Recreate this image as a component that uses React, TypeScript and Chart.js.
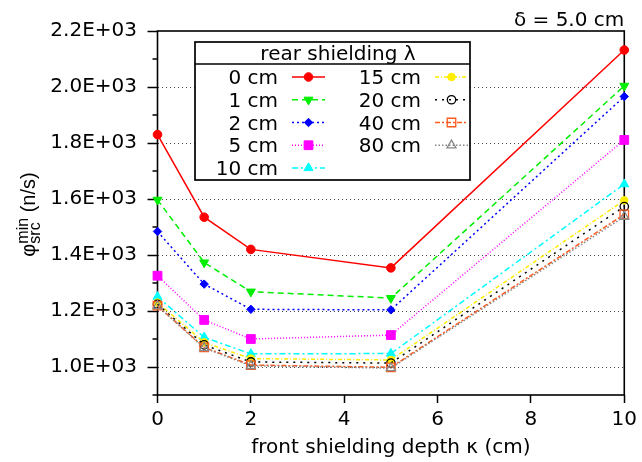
import { useEffect, useRef } from 'react';
import { Chart, registerables } from 'chart.js';
import { drawPoint } from 'chart.js/helpers';

Chart.register(...registerables);

// ---- data ----
const frontDepths = [0, 1, 2, 5, 10];
const rearLabels = ['0 cm', '1 cm', '2 cm', '5 cm', '10 cm', '15 cm', '20 cm', '40 cm', '80 cm'];
const rear0 = [1830, 1535, 1420, 1354, 2132];
const rear1 = [1597, 1373, 1269, 1246, 2004];
const rear2 = [1484, 1296, 1206, 1204, 1966];
const rear5 = [1326, 1168, 1100, 1114, 1811];
const rear10 = [1251, 1106, 1047, 1048, 1653];
const rear15 = [1230, 1088, 1030, 1025, 1595];
const rear20 = [1224, 1079, 1018, 1014, 1573];
const rear40 = [1219, 1070, 1007, 999, 1545];
const rear80 = [1218, 1068, 1004, 996, 1537];
const yTickValues = [1000, 1200, 1400, 1600, 1800, 2000, 2200];
const yTickLabels = ['1.0E+03', '1.2E+03', '1.4E+03', '1.6E+03', '1.8E+03', '2.0E+03', '2.2E+03'];
const xTickValues = [0, 2, 4, 6, 8, 10];
const xTickLabels = ['0', '2', '4', '6', '8', '10'];
const legendTitle = 'rear shielding λ';
const xTitle = 'front shielding depth κ (cm)';
const cornerLabel = 'δ = 5.0 cm';

const series = [rear0, rear1, rear2, rear5, rear10, rear15, rear20, rear40, rear80];

// ---- styles ----
const colors = ['#ff0000', '#00ee00', '#0000ff', '#ff00ff', '#00ffff', '#ffee00', '#000000', '#ff5a1e', '#888888'];
const dashes = [[], [6, 4], [2, 3], [1, 2], [6, 3, 2, 3], [4, 2, 1, 2], [2, 5], [5, 2, 2, 2], [1.5, 2]];
const pStyles = ['circle', 'triangle', 'rectRot', 'rect', 'triangle', 'circle', 'circle', 'rect', 'triangle'];
const pRot = [0, 180, 0, 0, 0, 0, 0, 0, 0];
const pRadius = [4.3, 5.2, 4.2, 6.2, 5.2, 3.8, 4.2, 6.0, 5.2];
const pFilled = [true, true, true, true, true, true, false, false, false];

const FONT = '"DejaVu Sans"';

const decorPlugin = {
  id: 'decor',
  beforeDatasetsDraw(chart: any) {
    const { ctx, chartArea } = chart;
    const y = chart.scales.y;
    ctx.save();
    ctx.strokeStyle = '#000';
    ctx.lineWidth = 1.6;
    ctx.strokeRect(chartArea.left, chartArea.top, chartArea.right - chartArea.left, chartArea.bottom - chartArea.top);
    ctx.lineWidth = 1.5;
    y.ticks.forEach((t: any) => {
      const v = Math.round(t.value);
      if (yTickValues.includes(v)) return;
      const py = y.getPixelForValue(v);
      ctx.beginPath();
      ctx.moveTo(chartArea.left - 5, py);
      ctx.lineTo(chartArea.left, py);
      ctx.stroke();
    });
    ctx.restore();
  },
  afterDraw(chart: any) {
    const { ctx, chartArea } = chart;
    ctx.save();
    // legend box
    const L = 195, T = 42, R = 470, B = 180;
    ctx.fillStyle = '#fff';
    ctx.fillRect(L, T, R - L, B - T);
    ctx.strokeStyle = '#000';
    ctx.lineWidth = 1.7;
    ctx.strokeRect(L, T, R - L, B - T);
    ctx.beginPath();
    ctx.moveTo(L, 64);
    ctx.lineTo(R, 64);
    ctx.stroke();
    ctx.font = `20px ${FONT}`;
    ctx.fillStyle = '#000';
    ctx.textBaseline = 'alphabetic';
    ctx.textAlign = 'center';
    ctx.fillText(legendTitle, 338, 60);
    chart.data.datasets.forEach((ds: any, i: number) => {
      const col = i < 5 ? 0 : 1;
      const row = i < 5 ? i : i - 5;
      const base = 84 + row * 22.75;
      const textRight = col === 0 ? 278 : 421;
      const x0 = col === 0 ? 292 : 435;
      const x1 = x0 + 33;
      ctx.fillStyle = '#000';
      ctx.textAlign = 'right';
      ctx.font = `20px ${FONT}`;
      ctx.fillText(ds.label, textRight, base);
      const ym = base - 7;
      ctx.strokeStyle = ds.borderColor;
      ctx.lineWidth = ds.borderWidth;
      ctx.setLineDash(ds.borderDash);
      ctx.beginPath();
      ctx.moveTo(x0, ym);
      ctx.lineTo(x1, ym);
      ctx.stroke();
      ctx.setLineDash([]);
      ctx.fillStyle = ds.pointBackgroundColor;
      ctx.strokeStyle = ds.pointBorderColor;
      ctx.lineWidth = ds.pointBorderWidth;
      drawPoint(ctx, { pointStyle: ds.pointStyle, rotation: ds.pointRotation, radius: ds.pointRadius, borderWidth: ds.pointBorderWidth }, (x0 + x1) / 2, ym);
    });
    // corner label
    ctx.fillStyle = '#000';
    ctx.font = `20px ${FONT}`;
    ctx.textAlign = 'right';
    ctx.fillText(cornerLabel, chartArea.right, 26);
    // x title
    ctx.textAlign = 'center';
    ctx.fillText(xTitle, (chartArea.left + chartArea.right) / 2, 453);
    // y title
    const big = '20px "Liberation Sans"';
    const small = '16px "Liberation Sans"';
    ctx.font = big;
    const wPhi = ctx.measureText('φ').width;
    const wRest = ctx.measureText(' (n/s)').width;
    ctx.font = small;
    const wSup = Math.max(ctx.measureText('min').width, ctx.measureText('src').width);
    const total = wPhi + wSup + wRest;
    ctx.translate(35, 214.5 + total / 2);
    ctx.rotate(-Math.PI / 2);
    ctx.textAlign = 'left';
    ctx.font = big;
    ctx.fillText('φ', 0, 0);
    ctx.font = small;
    ctx.fillText('min', wPhi, -7);
    ctx.fillText('src', wPhi, 5);
    ctx.font = big;
    ctx.fillText(' (n/s)', wPhi + wSup, 0);
    ctx.restore();
  },
};

export default function App() {
  const ref = useRef<HTMLCanvasElement | null>(null);
  useEffect(() => {
    if (!ref.current) return;
    const chart = new Chart(ref.current, {
      type: 'line',
      data: {
        datasets: series.map((vals, i) => ({
          label: rearLabels[i],
          data: frontDepths.map((x, j) => ({ x, y: vals[j] })),
          borderColor: colors[i],
          backgroundColor: colors[i],
          borderWidth: 1.5,
          borderDash: dashes[i],
          pointStyle: pStyles[i],
          pointRotation: pRot[i],
          pointRadius: pRadius[i],
          pointBackgroundColor: pFilled[i] ? colors[i] : 'rgba(0,0,0,0)',
          pointBorderColor: colors[i],
          pointBorderWidth: pFilled[i] ? 1 : 1.3,
          tension: 0,
          fill: false,
          order: -i,
          clip: false,
        })) as any,
      },
      options: {
        animation: false,
        responsive: false,
        devicePixelRatio: 1,
        layout: { padding: { left: 0, right: 15, top: 31, bottom: 0 } },
        plugins: { legend: { display: false }, tooltip: { enabled: false }, title: { display: false } },
        scales: {
          x: {
            type: 'linear',
            min: 0,
            max: 10,
            afterFit: (s: any) => { s.height = 67; },
            afterBuildTicks: (s: any) => { s.ticks = xTickValues.map((v) => ({ value: v })); },
            ticks: {
              autoSkip: false,
              maxRotation: 0,
              padding: 5,
              color: '#000',
              font: { family: FONT, size: 20 },
              callback: (v: any) => { const i = xTickValues.indexOf(Math.round(Number(v))); return i >= 0 ? xTickLabels[i] : ''; },
            },
            grid: { drawOnChartArea: false, tickLength: 8, tickWidth: 1.5, tickColor: '#000' },
            border: { display: false },
          },
          y: {
            type: 'linear',
            min: 900,
            max: 2200,
            afterFit: (s: any) => { s.width = 157.5; },
            ticks: {
              stepSize: 100,
              autoSkip: false,
              padding: 10.5,
              color: '#000',
              font: { family: FONT, size: 20 },
              callback: (v: any) => { const i = yTickValues.indexOf(Math.round(Number(v))); return i >= 0 ? yTickLabels[i] : ''; },
            },
            grid: {
              lineWidth: 1,
              color: (c: any) => {
                const v = Math.round(c.tick?.value ?? -1);
                return yTickValues.includes(v) && v < 2200 ? '#444' : 'rgba(0,0,0,0)';
              },
              tickLength: 10,
              tickWidth: 1.5,
              tickColor: (c: any) => (yTickValues.includes(Math.round(c.tick?.value ?? -1)) ? '#000' : 'rgba(0,0,0,0)'),
            },
            border: { display: false, dash: [1, 3] },
          },
        },
      },
      plugins: [decorPlugin],
    });
    return () => chart.destroy();
  }, []);
  return (
    <canvas
      ref={ref}
      width={642}
      height={462}
      style={{ position: 'absolute', left: 0, top: 0, display: 'block', width: 642, height: 462 }}
    />
  );
}
